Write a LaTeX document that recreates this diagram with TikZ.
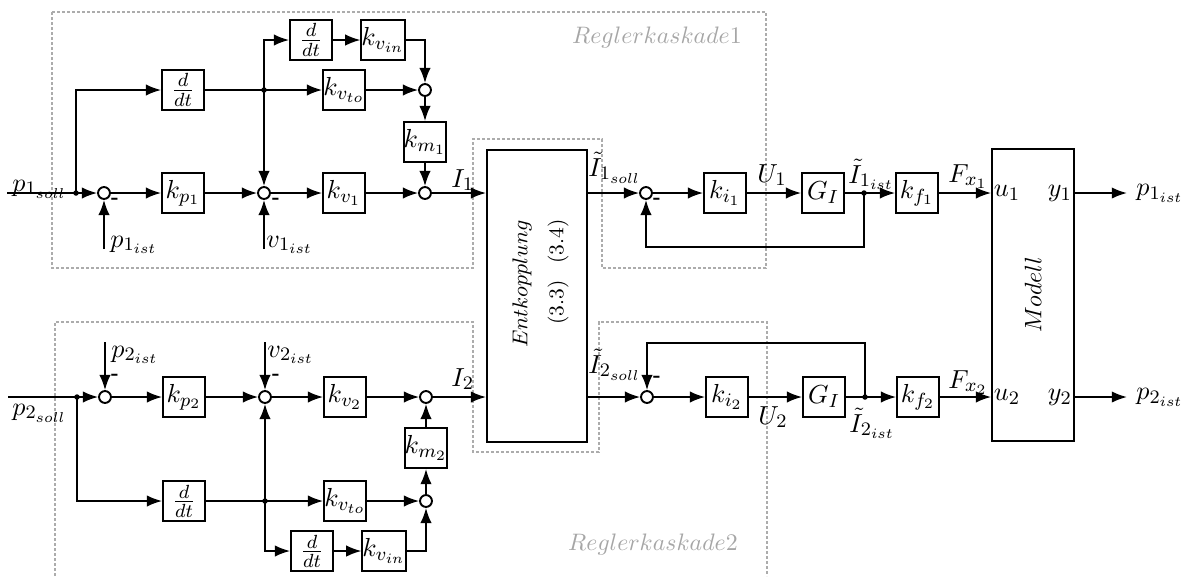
\documentclass[tikz,border=0pt,11pt]{standalone}
\usetikzlibrary{arrows.meta}
\begin{document}
\begin{tikzpicture}[x=0.42pt,y=-0.42pt,
  blk/.style={draw,line width=0.8pt,minimum width=17.6pt,minimum height=16.8pt,inner sep=0pt},
  bigblk/.style={draw,line width=0.8pt,inner sep=0pt,minimum height=122.6pt},
  sumc/.style={draw,circle,line width=0.8pt,minimum size=5pt,inner sep=0pt},
  jdot/.style={circle,fill,minimum size=2.3pt,inner sep=0pt},
  ln/.style={line width=0.75pt},
  arr/.style={ln,-{Latex[length=6.4pt,width=4.8pt]}},
  grp/.style={draw=gray!65,line width=0.5pt,dash pattern=on 1.3pt off 0.8pt},
  grptxt/.style={text=gray!70,font=\small},
  lbl/.style={inner sep=0pt,anchor=base west},
  neg/.style={inner sep=0pt,font=\scriptsize\bfseries},
  enttxt/.style={rotate=90,inner sep=0pt,font=\fontsize{8.8}{10}\selectfont}
]
\useasboundingbox (0,0) rectangle (1198,576);

% group frames
\draw[grp] (52,12) -- (766,12) -- (766,268) -- (602,268) -- (602,139) -- (473,139) -- (473,268) -- (52,268) -- cycle;
\draw[grp] (55,576) -- (55,322) -- (473,322) -- (473,452) -- (599,452) -- (599,322) -- (767,322) -- (767,576);
\node[grptxt] (rk1) at (657,38) {$Reglerkaskade1$};
\node[grptxt] (rk2) at (653,545) {$Reglerkaskade2$};

% ---------- top cascade ----------
\coordinate (p1in) at (7,193);
\node[jdot] (J1) at (76,193) {};
\node[sumc] (S1) at (104,193) {};
\node[blk] (kp1) at (183,193) {$k_{p_1}$};
\node[sumc] (S2) at (264,193) {};
\node[blk] (kv1) at (344,193) {$k_{v_1}$};
\node[sumc] (S3) at (425,193) {};
\node[blk] (dd1) at (183,90) {$\frac{d}{dt}$};
\node[jdot] (J2) at (264,90) {};
\node[blk] (kvto1) at (344,90) {$k_{v_{to}}$};
\node[sumc] (S4) at (425,90) {};
\node[blk] (dd2) at (311,40) {$\frac{d}{dt}$};
\node[blk] (kvin1) at (383,40) {$k_{v_{in}}$};
\node[blk] (km1) at (425,142) {$k_{m_1}$};
\coordinate (p1ib) at (104,249);
\coordinate (v1ib) at (264,249);

\draw[ln] (p1in) -- (J1.center);
\draw[arr] (J1.center) -- (S1);
\draw[arr] (J1.center) |- (dd1);
\draw[arr] (p1ib) -- (S1);
\draw[arr] (S1) -- (kp1);
\draw[arr] (kp1) -- (S2);
\draw[arr] (v1ib) -- (S2);
\draw[arr] (S2) -- (kv1);
\draw[arr] (kv1) -- (S3);
\draw[ln] (dd1) -- (J2.center);
\draw[arr] (J2.center) -- (kvto1);
\draw[arr] (J2.center) -- (S2);
\draw[arr] (J2.center) |- (dd2);
\draw[arr] (dd2) -- (kvin1);
\draw[arr] (kvin1) -| (S4);
\draw[arr] (kvto1) -- (S4);
\draw[arr] (S4) -- (km1);
\draw[arr] (km1) -- (S3);

% ---------- bottom cascade ----------
\coordinate (p2in) at (8,397);
\node[jdot] (J3) at (77,397) {};
\node[sumc] (S6) at (105,397) {};
\node[blk] (kp2) at (184,397) {$k_{p_2}$};
\node[sumc] (S7) at (265,397) {};
\node[blk] (kv2) at (345,397) {$k_{v_2}$};
\node[sumc] (S8) at (426,397) {};
\node[blk] (km2) at (426,448) {$k_{m_2}$};
\node[blk] (dd3) at (184,501) {$\frac{d}{dt}$};
\node[jdot] (J4) at (265,501) {};
\node[blk] (kvto2) at (345,501) {$k_{v_{to}}$};
\node[sumc] (S9) at (426,501) {};
\node[blk] (dd4) at (312,551) {$\frac{d}{dt}$};
\node[blk] (kvin2) at (384,551) {$k_{v_{in}}$};
\coordinate (p2it) at (105,342);
\coordinate (v2it) at (265,342);

\draw[ln] (p2in) -- (J3.center);
\draw[arr] (J3.center) -- (S6);
\draw[arr] (J3.center) |- (dd3);
\draw[arr] (p2it) -- (S6);
\draw[arr] (S6) -- (kp2);
\draw[arr] (kp2) -- (S7);
\draw[arr] (v2it) -- (S7);
\draw[arr] (S7) -- (kv2);
\draw[arr] (kv2) -- (S8);
\draw[ln] (dd3) -- (J4.center);
\draw[arr] (J4.center) -- (kvto2);
\draw[arr] (J4.center) -- (S7);
\draw[arr] (J4.center) |- (dd4);
\draw[arr] (dd4) -- (kvin2);
\draw[arr] (kvin2) -| (S9);
\draw[arr] (kvto2) -- (S9);
\draw[arr] (S9) -- (km2);
\draw[arr] (km2) -- (S8);

% ---------- decoupling ----------
\node[bigblk,minimum width=42pt] (ent) at (537,296) {};
\node[enttxt] (entA) at (522,284) {$Entkopplung$};
\node[enttxt] (entB) at (558,272) {(3.3)\hspace{7pt}(3.4)};
\draw[arr] (S3) -- (S3 -| ent.west);
\draw[arr] (S8) -- (S8 -| ent.west);

% ---------- current loops ----------
\node[sumc] (S5) at (646,193) {};
\node[blk] (ki1) at (725,193) {$k_{i_1}$};
\node[blk] (GI1) at (823,193) {$G_I$};
\node[jdot] (J5) at (864,193) {};
\node[blk] (kf1) at (917,193) {$k_{f_1}$};

\node[sumc] (S10) at (647,397) {};
\node[blk] (ki2) at (727,397) {$k_{i_2}$};
\node[blk] (GI2) at (824,397) {$G_I$};
\node[jdot] (J6) at (865,397) {};
\node[blk] (kf2) at (918,397) {$k_{f_2}$};

\node[bigblk,minimum width=34.4pt] (mod) at (1033,295) {};
\node[rotate=90,inner sep=0pt,font=\small] (modt) at (1033,295) {$Modell$};
\coordinate (o1) at (1127,193);
\coordinate (o2) at (1127,397);

\draw[arr] (ent.east |- S5) -- (S5);
\draw[arr] (S5) -- (ki1);
\draw[arr] (ki1) -- (GI1);
\draw[ln] (GI1) -- (J5.center);
\draw[arr] (J5.center) -- (kf1);
\draw[arr] (J5.center) -- ++(0,54) -| (S5);
\draw[arr] (kf1) -- (kf1 -| mod.west);
\draw[arr] (mod.east |- o1) -- (o1);

\draw[arr] (ent.east |- S10) -- (S10);
\draw[arr] (S10) -- (ki2);
\draw[arr] (ki2) -- (GI2);
\draw[ln] (GI2) -- (J6.center);
\draw[arr] (J6.center) -- (kf2);
\draw[arr] (J6.center) -- ++(0,-54) -| (S10);
\draw[arr] (kf2) -- (kf2 -| mod.west);
\draw[arr] (mod.east |- o2) -- (o2);

% ---------- labels ----------
\node[lbl] (lp1s) at (12,191) {$p_{1_{soll}}$};
\node[lbl] (lp2s) at (12,415) {$p_{2_{soll}}$};
\node[lbl] (lp1i) at (110,247) {$p_{1_{ist}}$};
\node[lbl] (lv1i) at (266,247) {$v_{1_{ist}}$};
\node[lbl] (lp2i) at (111,357) {$p_{2_{ist}}$};
\node[lbl] (lv2i) at (267,357) {$v_{2_{ist}}$};
\node[lbl] (lI1) at (451,187) {$I_1$};
\node[lbl] (lI2) at (451,386) {$I_2$};
\node[lbl] (lIs1) at (588,176) {$\tilde{I}_{1_{soll}}$};
\node[lbl] (lIs2) at (588,373) {$\tilde{I}_{2_{soll}}$};
\node[lbl] (lU1) at (757,182) {$U_1$};
\node[lbl] (lU2) at (758,424) {$U_2$};
\node[lbl] (lIi1) at (848,183) {$\tilde{I}_{1_{ist}}$};
\node[lbl] (lIi2) at (849,432) {$\tilde{I}_{2_{ist}}$};
\node[lbl] (lF1) at (948,182) {$F_{x_1}$};
\node[lbl] (lF2) at (948,388) {$F_{x_2}$};
\node[inner sep=1pt,anchor=west] (lu1) at (mod.west |- o1) {$u_1$};
\node[inner sep=1pt,anchor=west] (lu2) at (mod.west |- o2) {$u_2$};
\node[inner sep=1pt,anchor=east] (ly1) at (mod.east |- o1) {$y_1$};
\node[inner sep=1pt,anchor=east] (ly2) at (mod.east |- o2) {$y_2$};
\node[anchor=west,inner sep=0pt] (lo1) at (1136,193) {$p_{1_{ist}}$};
\node[anchor=west,inner sep=0pt] (lo2) at (1136,397) {$p_{2_{ist}}$};

% minus signs
\node[neg] (m1) at (115,201) {-};
\node[neg] (m2) at (276,201) {-};
\node[neg] (m3) at (657,201) {-};
\node[neg] (m4) at (115,377) {-};
\node[neg] (m5) at (276,377) {-};
\node[neg] (m6) at (657,379) {-};
\end{tikzpicture}
\end{document}
